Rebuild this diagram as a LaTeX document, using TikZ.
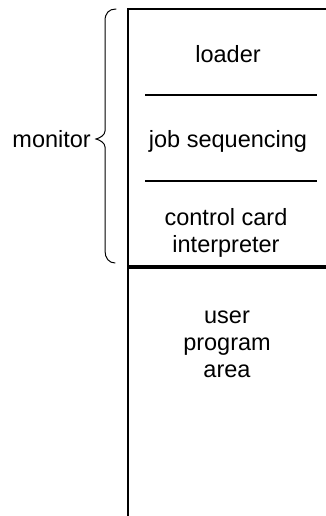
\documentclass[tikz,border=0pt]{standalone}
\usepackage{fontspec}
\setmainfont{Liberation Sans}
\begin{document}
\begin{tikzpicture}[x=1pt,y=-1pt,
  lbl/.style={inner sep=0pt,anchor=base,font=\fontsize{23.5}{27}\selectfont,align=center},
  boxline/.style={line width=2.4pt},
  sepline/.style={line width=2.6pt},
  bracestyle/.style={line width=1pt,line cap=round}]
\useasboundingbox (0,0) rectangle (326,516);
% memory box (open to right and bottom)
\coordinate (tl) at (128,9);
\coordinate (tr) at (327,9);
\coordinate (bl) at (128,517);
\draw[boxline] (tr) -- (tl) -- (bl);
\draw[line width=3.2pt] (127,267) -- (327,267);
% separators
\draw[sepline] (145,95) -- (317,95);
\draw[sepline] (145,181) -- (317,181);
% texts (anchor base = baseline of the last line)
\node[lbl] (loader) at (228,63) {loader};
\node[lbl] (job) at (228,147) {job sequencing};
\node[lbl] (ctrl) at (226,252) {control card\\interpreter};
\node[lbl] (user) at (227,377) {user\\program\\area};
\node[lbl,anchor=base east] (mon) at (91,147) {monitor};
% brace
\draw[bracestyle] (116,9) .. controls (109,9) and (105,13) .. (105,21)
  -- (105,131) .. controls (105,135) and (100,138) .. (96,139)
  .. controls (100,140) and (105,143) .. (105,147)
  -- (105,251) .. controls (105,258) and (109,263) .. (115,263);
\end{tikzpicture}
\end{document}
